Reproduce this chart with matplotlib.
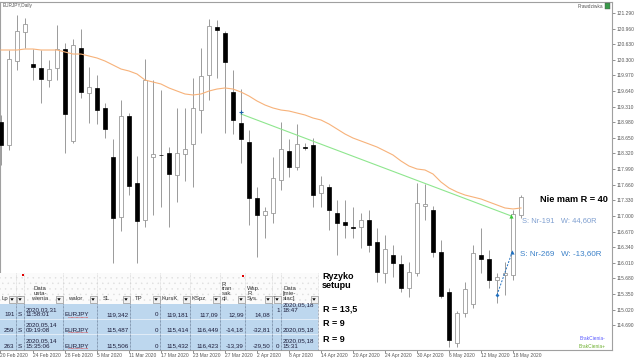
import matplotlib

matplotlib.use("Agg")
import matplotlib.pyplot as plt
import numpy as np
import pandas as pd
from matplotlib.patches import Polygon, Rectangle
from matplotlib.transforms import Bbox, TransformedBbox

plt.rcParams["font.family"] = ["Liberation Sans", "DejaVu Sans"]
plt.rcParams["hatch.linewidth"] = 0.3

# EURJPY daily bars, 18 Feb 2020 .. 19 May 2020
DATES = pd.bdate_range("2020-02-18", "2020-05-19")
OPEN = [118.986, 118.499, 120.275, 120.888, 120.212, 120.127, 119.874, 120.127, 120.529, 118.584,
        120.550, 119.599, 119.705, 119.282, 118.246, 116.977, 119.113, 117.696, 116.914, 118.246,
        118.288, 118.330, 117.865, 118.309, 118.521, 119.239, 119.979, 120.994, 120.867, 119.620,
        118.965, 118.563, 117.379, 117.020, 117.062, 117.759, 118.373, 118.034, 118.457, 118.499,
        117.485, 117.611, 117.062, 116.872, 116.766, 116.766, 116.914, 116.449, 115.793, 116.174,
        115.984, 115.476, 115.793, 117.210, 117.125, 116.237, 115.392, 114.313, 114.947, 115.138,
        116.174, 116.089, 115.645, 115.751, 115.751, 117.020]
HIGH = [119.134, 120.508, 121.248, 121.184, 120.529, 120.508, 120.296, 121.036, 120.656, 120.740,
        120.952, 120.148, 119.979, 119.387, 118.626, 119.451, 119.176, 118.267, 120.318, 119.874,
        119.662, 118.457, 119.282, 119.282, 119.916, 120.550, 121.163, 121.142, 120.910, 120.085,
        119.683, 118.817, 117.611, 117.189, 118.246, 118.986, 118.626, 118.943, 118.542, 118.647,
        117.844, 117.675, 117.337, 117.337, 117.189, 117.062, 117.125, 116.745, 116.597, 116.385,
        116.174, 116.026, 117.696, 117.675, 117.210, 116.491, 115.476, 114.989, 115.603, 116.385,
        116.745, 116.280, 115.793, 116.026, 117.125, 117.442]
LOW = [118.077, 118.394, 120.085, 120.550, 119.874, 119.387, 119.726, 119.874, 118.330, 118.542,
       119.493, 118.965, 118.943, 118.647, 116.005, 116.681, 117.443, 116.005, 116.766, 117.020,
       117.189, 116.766, 117.294, 117.738, 117.611, 118.753, 119.451, 119.916, 118.753, 118.732,
       118.119, 116.808, 116.132, 116.534, 116.850, 117.548, 117.823, 117.971, 118.394, 117.189,
       117.189, 116.702, 116.174, 116.534, 116.534, 116.322, 116.237, 115.603, 115.582, 115.709,
       115.392, 115.286, 115.730, 116.914, 116.132, 115.265, 114.229, 114.229, 114.863, 115.053,
       115.793, 115.476, 115.159, 115.328, 115.645, 116.956]
CLOSE = [118.499, 120.318, 120.910, 121.058, 120.148, 119.895, 120.106, 120.529, 119.155, 120.614,
         119.620, 119.726, 119.239, 118.838, 116.956, 119.113, 117.633, 116.893, 119.874, 118.309,
         118.280, 117.886, 118.330, 118.415, 119.282, 119.958, 121.015, 120.931, 120.254, 119.028,
         118.626, 117.379, 117.020, 117.104, 117.802, 118.415, 118.034, 118.521, 118.436, 117.442,
         117.654, 117.125, 116.850, 116.808, 116.745, 116.914, 116.385, 115.814, 116.301, 116.005,
         115.476, 115.814, 117.273, 117.252, 116.237, 115.307, 114.377, 114.947, 115.455, 116.216,
         116.089, 115.645, 115.709, 115.793, 117.041, 117.400]
MA = [120.508, 120.508, 120.508, 120.529, 120.529, 120.508, 120.508, 120.508, 120.466, 120.423,
      120.423, 120.381, 120.339, 120.275, 120.191, 120.106, 120.064, 120.001, 119.874, 119.831,
      119.789, 119.705, 119.641, 119.578, 119.557, 119.578, 119.641, 119.683, 119.705, 119.683,
      119.620, 119.535, 119.430, 119.345, 119.282, 119.239, 119.218, 119.176, 119.134, 119.070,
      119.028, 118.943, 118.838, 118.732, 118.647, 118.584, 118.521, 118.457, 118.373, 118.288,
      118.161, 118.055, 117.992, 117.971, 117.886, 117.717, 117.590, 117.506, 117.442, 117.400,
      117.358, 117.294, 117.231, 117.168, 117.147, 117.168]

PRICE_TICKS = [121.29 - 0.33 * k for k in range(21)]

# trades drawn on the chart (open date/price -> close date/price)
TRADE_191 = [("2020-03-31", 119.155), ("2020-05-18", 116.998)]
TRADE_269 = [("2020-05-14", 115.328), ("2020-05-18", 116.237)]

# trade journal table
TABLE_HEADERS = ["Lp", "P", "Data\nusta-\nwienia", "walor", "SL", "TP", "KursK", "KSpz",
                 "R\ntran\nsak\ncji", "Wsp.\nR\nSys.", "T", "Data\n[mie-\nsiac]"]
TABLE_ROWS = [
    ["191", "S", "2020,03,31\n11:58:01", "EURJPY", "119,342", "0", "119,181", "117,09",
     "12,99", "14,08", "1", "2020,05,18\n18:47"],
    ["259", "S", "2020,05,14\n09:19:08", "EURJPY", "115,487", "0", "115,414", "116,449",
     "-14,18", "-32,81", "0", "2020,05,18"],
    ["263", "S", "2020,05,14\n15:35:06", "EURJPY", "115,506", "0", "115,432", "116,423",
     "-13,39", "-29,50", "0", "2020,05,18\n15:31"],
]
RISK_LABELS = ["R = 13,5", "R = 9", "R = 9"]

WICK = "#9a9a9a"
FRAME = "#a0a0a0"


def draw_candles(ax):
    x = np.arange(len(DATES))
    o, h, l, c = (np.array(v) for v in (OPEN, HIGH, LOW, CLOSE))
    up = c >= o
    ax.vlines(x, l, h, color=WICK, lw=0.7, zorder=2)
    ax.bar(x[up], np.maximum((c - o)[up], 0.01), bottom=o[up], width=0.62,
           facecolor="white", edgecolor=WICK, lw=0.6, zorder=3)
    ax.bar(x[~up], (c - o)[~up], bottom=o[~up], width=0.62,
           facecolor="black", edgecolor="black", lw=0.5, zorder=3)
    ax.plot(x, MA, color="#f7b27a", lw=0.8, zorder=4)


def draw_trades(ax):
    pos = {d.strftime("%Y-%m-%d"): i for i, d in enumerate(DATES)}
    (d0, p0), (d1, p1) = TRADE_191
    ax.plot([pos[d0], pos[d1] - 0.2], [p0, p1], color="#8ee68e", lw=0.8, zorder=5)
    ax.plot(pos[d0], p0 + 0.04, marker="+", color="#1f5fa8", ms=3, mew=0.8, zorder=6)
    ax.plot(pos[d1] - 0.2, p1, marker="^", color="#3cc83c", ms=3, mew=0, zorder=6)
    (d0, p0), (d1, p1) = TRADE_269
    ax.plot([pos[d0], pos[d1] - 0.1], [p0, p1], color="#1f6fbf", lw=0.7,
            ls=(0, (2, 1.5)), zorder=5)
    ax.plot(pos[d0], p0, marker="D", color="#1f6fbf", ms=2, mew=0, zorder=6)
    ax.plot(pos[d1] - 0.1, p1, marker="^", color="#1f6fbf", ms=3, mew=0, zorder=6)


def draw_table(ov):
    cols = [0, 16, 24, 63, 97, 130, 160, 190, 220, 245, 272, 281, 318]
    top, head_bottom = 273, 304
    rows = [304, 319, 334, 350]
    align = ["right", "left", "left", "left", "right", "right", "right", "right",
             "right", "right", "right", "left"]
    txt = "#1c1c3a"

    ov.add_patch(Rectangle((0, top), cols[-1], head_bottom - top, facecolor="#fbfbfb",
                           edgecolor="#dedede", lw=0, hatch="...", zorder=10))
    ov.add_patch(Rectangle((0, head_bottom), cols[-1], rows[-1] - head_bottom,
                           facecolor="#bdd7ee", lw=0, zorder=10))
    for y in rows[1:-1]:
        ov.plot([0, cols[-1]], [y, y], color="#e8f0f8", lw=0.6, zorder=11)
    for xc in cols[1:]:
        ov.plot([xc, xc], [top, head_bottom], color="#cccccc", lw=0.5, ls=(0, (1, 1)), zorder=11)
        ov.plot([xc, xc], [head_bottom, rows[-1]], color="#4f5f78", lw=0.5, ls=(0, (1, 1)), zorder=11)

    head_x = [1, 17, 40, 68, 103, 135, 161, 192, 222, 247, 273, 283]
    for i, label in enumerate(TABLE_HEADERS):
        ov.text(head_x[i], 301, label, fontsize=4.3, color="#333333", linespacing=0.95,
                ha="center" if i == 2 else "left", va="bottom", zorder=12)
        bx = cols[i + 1] - 7.5
        ov.add_patch(Rectangle((bx, 296), 7, 7, facecolor="#f2f2f2", edgecolor="#7a7a7a",
                               lw=0.4, zorder=13))
        ov.add_patch(Polygon([[bx + 1.8, 298.3], [bx + 5.2, 298.3], [bx + 3.5, 300.8]],
                             closed=True, facecolor="black", lw=0, zorder=14))
    for mx, my in [(23.2, 274.5), (242.5, 275.5)]:
        ov.add_patch(Rectangle((mx - 1, my - 1), 2, 2, facecolor="#e00000", lw=0, zorder=14))

    for r, row in enumerate(TABLE_ROWS):
        y_bottom = rows[r + 1] - 1.5
        for i, value in enumerate(row):
            x0, x1 = cols[i], cols[i + 1]
            # first row's close-date cell overflows upwards in the sheet
            yb = y_bottom - 5 if (r == 0 and i >= 10) else y_bottom
            if align[i] == "right":
                t = ov.text(x1 - 1.5, yb, value, ha="right", va="bottom", fontsize=4.5,
                            color=txt, linespacing=0.95, zorder=12)
            else:
                t = ov.text(x0 + 1.5, yb, value, ha="left", va="bottom", fontsize=4.5,
                            color=txt, linespacing=0.95, zorder=12)
            if i == 7:
                t.set_clip_box(TransformedBbox(Bbox([[x0, 0], [x1, 360]]), ov.transData))
                t.set_clip_on(True)
        ov.plot([68, 88], [rows[r + 1] - 2, rows[r + 1] - 2], color="#e03030", lw=0.5,
                ls=(0, (1, 0.8)), zorder=13)

    ov.text(322, 272, "Ryzyko\nsetupu", fontsize=6.5, fontweight="bold", ha="left",
            va="top", linespacing=1.05, zorder=12)
    for lbl, y in zip(RISK_LABELS, [309, 323, 340]):
        ov.text(323, y, lbl, fontsize=6.5, fontweight="bold", ha="left", va="center", zorder=12)


def main():
    fig = plt.figure(figsize=(6.4, 3.6), dpi=100)
    ax = fig.add_axes([0, 10 / 360, 612 / 640, 348 / 360])
    draw_candles(ax)
    draw_trades(ax)

    ax.set_xlim(-0.125, 611 / 8)
    ax.set_ylim(114.165, 121.523)
    for side in ax.spines:
        ax.spines[side].set_color(FRAME)
        ax.spines[side].set_linewidth(0.8)

    ax.yaxis.tick_right()
    ax.set_yticks(PRICE_TICKS)
    ax.set_yticklabels([f"{v:.3f}" for v in PRICE_TICKS])
    ax.tick_params(axis="y", length=2.5, width=0.5, pad=1, labelsize=3.5,
                   color="#666666", labelcolor="#555555")

    tick_pos = [-0.1] + list(range(4, len(DATES), 4))
    tick_lbl = ["20 Feb 2020"] + [f"{DATES[j].day} {DATES[j].strftime('%b %Y')}"
                                  for j in range(4, len(DATES), 4)]
    ax.set_xticks(tick_pos)
    ax.set_xticklabels(tick_lbl)
    ax.tick_params(axis="x", length=2, width=0.5, pad=0.5, labelsize=3.5,
                   color="#666666", labelcolor="#555555")
    for lbl in ax.get_xticklabels():
        lbl.set_ha("left")

    ov = fig.add_axes([0, 0, 1, 1])
    ov.set_xlim(0, 640)
    ov.set_ylim(360, 0)
    ov.axis("off")
    ov.patch.set_alpha(0)

    draw_table(ov)

    ov.text(3, 5.5, "EURJPY,Daily", fontsize=3.4, color="#555555", va="center")
    ov.text(603, 6, "Prawdziwka", fontsize=3.4, color="#555555", ha="right", va="center")
    ov.add_patch(Rectangle((605, 3), 5, 6, facecolor="#3a9a4a", edgecolor="#555555",
                           lw=0.3, zorder=5))
    ov.text(540, 200, "Nie mam R = 40", fontsize=6.6, fontweight="bold", ha="left", va="center")
    ov.text(522, 221, "S: Nr-191   W: 44,60R", fontsize=5.4, color="#7f9fd0",
            ha="left", va="center")
    ov.text(520, 254, "S: Nr-269   W: -13,60R", fontsize=5.8, color="#3a80c8",
            ha="left", va="center")
    ov.text(580, 339, "BrakCienia-", fontsize=3.5, color="#5a5aff", ha="left", va="center")
    ov.text(579, 347, "BrakCienia+", fontsize=3.5, color="#6fb030", ha="left", va="center")

    fig.savefig("out.png", dpi=100)
    plt.close(fig)


if __name__ == "__main__":
    main()
